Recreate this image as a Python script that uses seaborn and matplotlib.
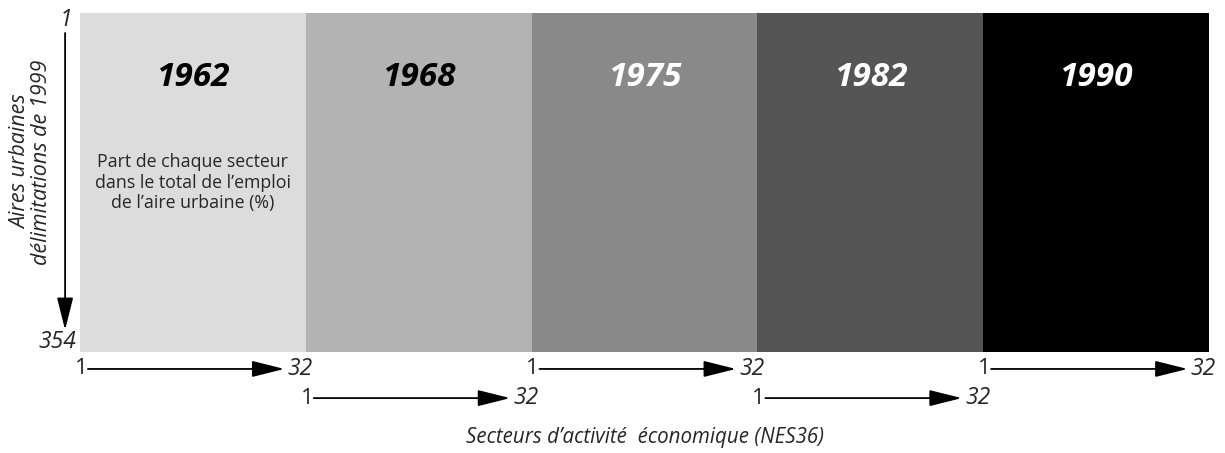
import numpy as np
import seaborn as sns
import matplotlib.pyplot as plt

# donnees du schema
years = ['1962', '1968', '1975', '1982', '1990']
shades = [0.863, 0.702, 0.537, 0.333, 0.0]   # niveau de gris de chaque bloc
label_colors = ['black', 'black', 'white', 'white', 'white']
arrow_rows = [0, 1, 0, 1, 0]
n_sectors = 32
n_aires = 354

sns.set_style('white')
plt.rcParams['font.family'] = ['Open Sans', 'DejaVu Sans']

fig = plt.figure(figsize=(12.25, 4.53), dpi=100)
ax = fig.add_axes([80 / 1225, 101 / 453, 1129 / 1225, 339 / 453])

sns.heatmap(np.array([shades]), cmap='gray', vmin=0, vmax=1, cbar=False,
            xticklabels=False, yticklabels=False, ax=ax)

for i, yr in enumerate(years):
    ax.text(i + 0.5, 0.19, yr, ha='center', va='center', fontsize=24,
            fontweight='bold', fontstyle='italic', color=label_colors[i])

ax.text(0.5, 0.5, "Part de chaque secteur\ndans le total de l\u2019emploi\nde l\u2019aire urbaine (%)",
        ha='center', va='center', fontsize=12.8, linespacing=1.2)

arrow_style = dict(arrowstyle='-|>,head_length=1.0,head_width=0.25',
                   color='black', lw=1.3, mutation_scale=20,
                   shrinkA=0, shrinkB=0)

# fleches des secteurs sous chaque bloc
row_y = [1.05, 1.136]
for i, r in enumerate(arrow_rows):
    y = row_y[r]
    ax.text(i + 0.005, y, '1', ha='center', va='center', fontsize=16)
    ax.annotate('', xy=(i + 0.905, y), xytext=(i + 0.035, y),
                arrowprops=arrow_style, annotation_clip=False)
    ax.text(i + 0.92, y, str(n_sectors), ha='left', va='center', fontsize=16.5,
            fontstyle='italic')

# fleche des aires urbaines
ax.annotate('', xy=(-0.066, 0.935), xytext=(-0.066, 0.059),
            arrowprops=arrow_style, annotation_clip=False)
ax.text(-0.062, 0.02, '1', ha='center', va='center', fontsize=16.5, fontstyle='italic')
ax.text(-0.018, 0.97, str(n_aires), ha='right', va='center', fontsize=16.5,
        fontstyle='italic')

ax.text(-0.215, 0.44, 'Aires urbaines\nd\u00e9limitations de 1999', rotation=90,
        ha='center', va='center', fontsize=15.5, fontstyle='italic', linespacing=1.0)

ax.text(2.5, 1.251, 'Secteurs d\u2019activit\u00e9  \u00e9conomique (NES36)',
        ha='center', va='center', fontsize=14.8, fontstyle='italic')

fig.savefig('out.png', dpi=100)
